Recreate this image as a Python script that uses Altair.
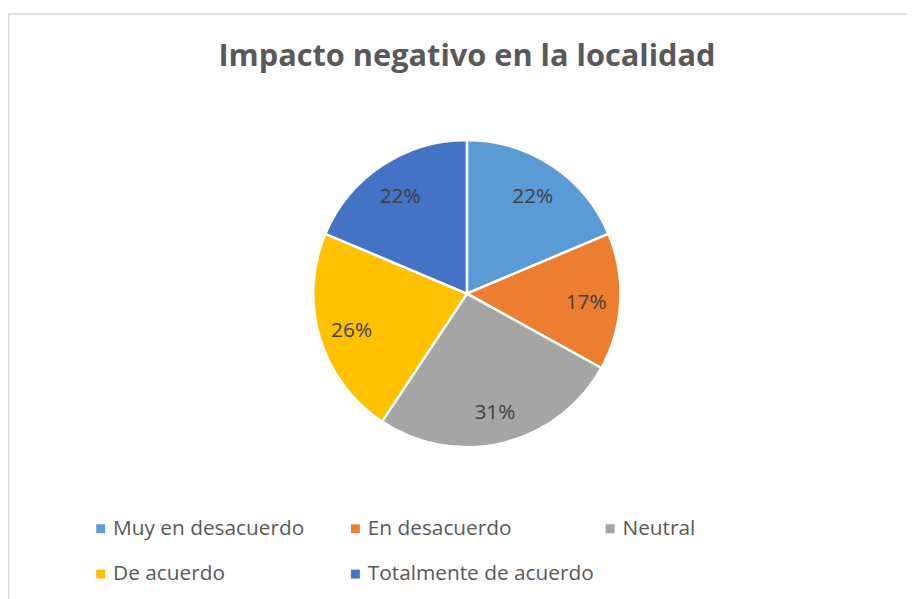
import altair as alt
import pandas as pd

categories = ["Muy en desacuerdo", "En desacuerdo", "Neutral", "De acuerdo", "Totalmente de acuerdo"]
values = [22, 17, 31, 26, 22]
labels = ["22%", "17%", "31%", "26%", "22%"]
colors = ["#5B9BD5", "#ED7D31", "#A5A5A5", "#FFC000", "#4472C4"]
title_text = "Impacto negativo en la localidad"

df = pd.DataFrame({"cat": categories, "value": values, "label": labels, "idx": list(range(len(categories)))})

FONT = "Open Sans"
W, H = 907, 591
CX, CY = 463, 285.5

border = alt.Chart(pd.DataFrame({"a": [0]})).mark_rect(
    fill="transparent", stroke="#D9D9D9", strokeWidth=1.5
).encode(x=alt.value(0.5), x2=alt.value(W + 20), y=alt.value(3.5), y2=alt.value(H + 20))

base = alt.Chart(df).encode(
    theta=alt.Theta("value:Q", stack=True),
    order=alt.Order("idx:Q"),
)

pie = base.mark_arc(radius=155, stroke="white", strokeWidth=2.5).encode(
    x=alt.value(CX),
    y=alt.value(CY),
    color=alt.Color(
        "cat:N",
        scale=alt.Scale(domain=categories, range=colors),
        sort=categories,
        legend=alt.Legend(
            title=None,
            orient="none",
            legendX=83,
            legendY=512,
            direction="horizontal",
            columns=3,
            gridAlign="all",
            columnPadding=5,
            rowPadding=24,
            symbolType="square",
            symbolSize=81,
            symbolStrokeWidth=0,
            labelFont=FONT,
            labelFontSize=21,
            labelColor="#595959",
            labelOffset=2,
            labelLimit=400,
            padding=0,
        ),
    ),
)

text = base.mark_text(radius=121, font=FONT, fontSize=21, color="#404040", baseline="middle", dx=-0.5, dy=3).encode(
    x=alt.value(CX),
    y=alt.value(CY),
    text="label:N",
)

title = alt.Chart(pd.DataFrame({"t": [title_text]})).mark_text(
    font=FONT, fontSize=31, fontWeight="bold", color="#595959", baseline="alphabetic", align="center"
).encode(text="t:N", x=alt.value(463), y=alt.value(56))

chart = alt.layer(border, pie, text, title).properties(
    width=W, height=H, padding=0, autosize=alt.AutoSizeParams(type="none")
).configure_view(stroke=None)

chart.save("out.html", embed_options={"renderer": "svg", "actions": False})
